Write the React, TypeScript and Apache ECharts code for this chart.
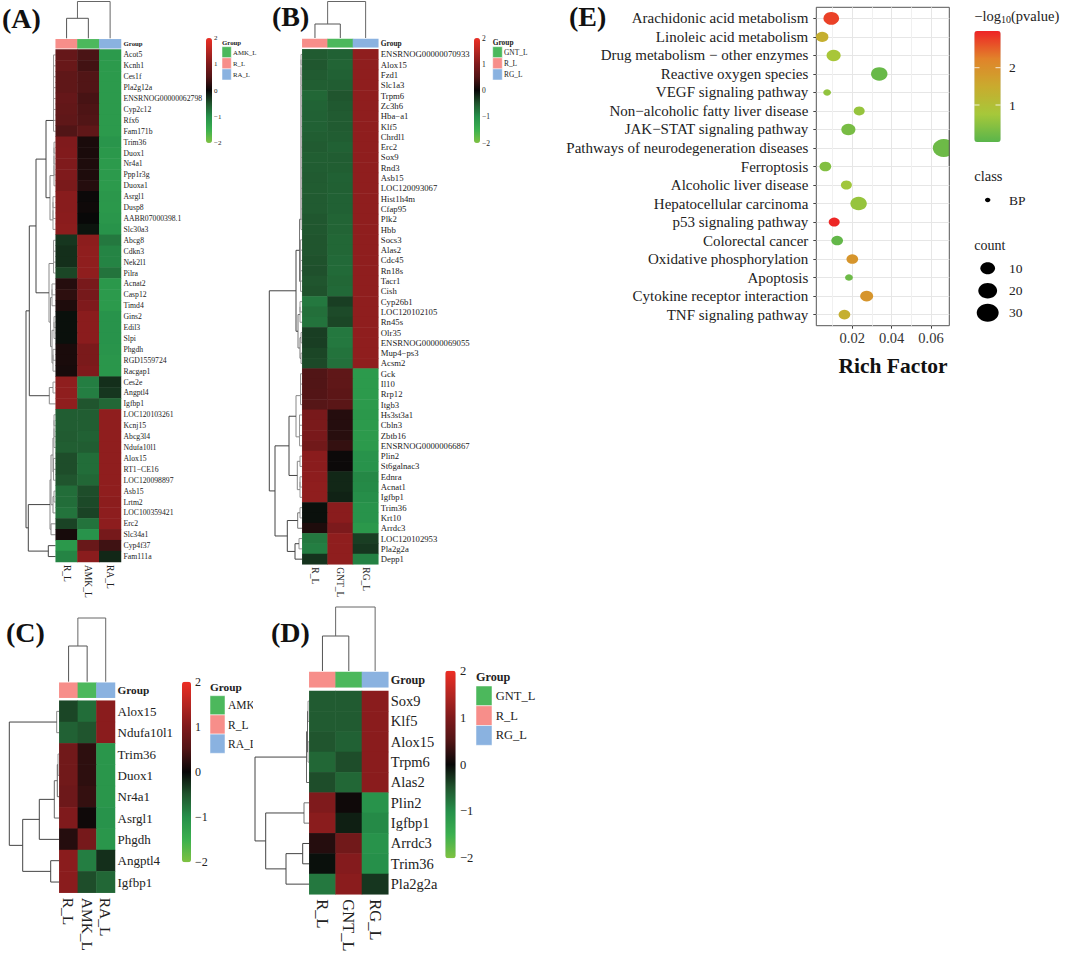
import React, { useEffect, useRef } from "react";
import * as echarts from "echarts";

const FONT = "Liberation Serif";

// ---------- Panel A ----------
const rowsA = ["Acot5","Kcnh1","Ces1f","Pla2g12a","ENSRNOG00000062798","Cyp2c12","Rfx6","Fam171b","Trim36","Duox1","Nr4a1","Ppp1r3g","Duoxa1","Asrgl1","Dusp8","AABR07000398.1","Slc30a3","Abcg8","Cdkn3","Nek2l1","Pilra","Acnat2","Casp12","Timd4","Gins2","Edil3","Slpi","Phgdh","RGD1559724","Racgap1","Ces2e","Angptl4","Igfbp1","LOC120103261","Kcnj15","Abcg3l4","Ndufa10l1","Alox15","RT1−CE16","LOC120098897","Asb15","Lrtm2","LOC100359421","Erc2","Slc34a1","Cyp4f37","Fam111a"];
const colsA = ["R_L","AMK_L","RA_L"];
const aR = [.72,.75,.65,.65,.72,.68,.65,.5,1.0,1.02,1.0,1.0,.95,1.08,1.08,1.1,1.12,-.3,-.25,-.25,-.4,.2,.25,.15,-.05,-.05,-.05,.12,.12,.1,1.15,1.15,1.15,-.57,-.57,-.55,-.58,-.45,-.45,-.5,-.7,-.7,-.75,-.38,.1,-1.13,-.9];
const aAMK = [.45,.4,.5,.5,.43,.47,.5,.65,.12,.12,.15,.15,.2,.03,.05,0,-.08,1.12,1.15,1.15,1.15,.92,.9,1.0,1.1,1.1,1.1,.95,.95,1.0,-.85,-.85,-.5,-.57,-.58,-.6,-.57,-.7,-.7,-.65,-.45,-.42,-.38,-.75,-1.05,.75,1.1];
const aRA = [-1.15,-1.15,-1.15,-1.15,-1.15,-1.15,-1.15,-1.15,-1.08,-1.12,-1.15,-1.15,-1.15,-1.11,-1.13,-1.1,-1.04,-.8,-.9,-.9,-.75,-1.12,-1.15,-1.15,-1.05,-1.05,-1.05,-1.07,-1.1,-1.1,-.25,-.3,-.65,1.15,1.15,1.15,1.15,1.15,1.15,1.15,1.15,1.12,1.13,1.13,.9,.38,-.2];

// ---------- Panel B ----------
const rowsB = ["ENSRNOG00000070933","Alox15","Fzd1","Slc1a3","Trpm6","Zc3h6","Hba−a1","Klf5","Chrdl1","Erc2","Sox9","Rnd3","Asb15","LOC120093067","Hist1h4m","Cfap95","Plk2","Hbb","Socs3","Alas2","Cdc45","Rn18s","Tacr1","Cish","Cyp26b1","LOC120102105","Rn45s","Olr35","ENSRNOG00000069055","Mup4−ps3","Acsm2","Gck","Il10","Rrp12","Itgb3","Hs3st3a1","Cbln3","Zbtb16","ENSRNOG00000066867","Plin2","St6galnac3","Ednra","Acnat1","Igfbp1","Trim36","Krt10","Arrdc3","LOC120102953","Pla2g2a","Depp1"];
const colsB = ["R_L","GNT_L","RG_L"];
const bR = [-.55,-.52,-.55,-.58,-.65,-.62,-.6,-.6,-.58,-.55,-.58,-.57,-.55,-.56,-.55,-.55,-.52,-.52,-.5,-.5,-.48,-.47,-.5,-.48,-.8,-.72,-.75,-.35,-.35,-.4,-.42,.5,.5,.52,.55,.92,.95,.93,.85,1.1,1.1,1.13,1.15,1.15,-.05,-.05,.15,-.8,-.85,-.28];
const bGNT = [-.6,-.63,-.6,-.57,-.5,-.53,-.55,-.55,-.57,-.6,-.57,-.58,-.6,-.59,-.6,-.6,-.63,-.63,-.65,-.65,-.67,-.68,-.65,-.67,-.35,-.43,-.4,-.8,-.8,-.75,-.73,.65,.65,.62,.6,.2,.2,.22,.3,.03,.03,-.2,-.2,-.17,1.1,1.1,.97,1.15,1.15,1.15];
const bRG = [1.15,1.15,1.15,1.15,1.15,1.15,1.15,1.15,1.15,1.15,1.15,1.15,1.15,1.15,1.15,1.15,1.15,1.15,1.15,1.15,1.15,1.15,1.15,1.15,1.15,1.15,1.15,1.15,1.15,1.15,1.15,-1.15,-1.15,-1.15,-1.15,-1.12,-1.15,-1.15,-1.15,-1.05,-1.05,-.93,-.95,-.98,-1.05,-1.05,-1.12,-.35,-.3,-.87];

// ---------- Panel C ----------
const rowsC = ["Alox15","Ndufa10l1","Trim36","Duox1","Nr4a1","Asrgl1","Phgdh","Angptl4","Igfbp1"];
const colsC = ["R_L","AMK_L","RA_L"];
const cR = [-.4,-.6,.85,.85,.8,1.0,.2,1.1,1.1];
const cAMK = [-.7,-.5,.25,.25,.3,.05,.9,-.85,-.45];
const cRA = [1.1,1.1,-1.1,-1.1,-1.1,-1.05,-1.1,-.25,-.65];

// ---------- Panel D ----------
const rowsD = ["Sox9","Klf5","Alox15","Trpm6","Alas2","Plin2","Igfbp1","Arrdc3","Trim36","Pla2g2a"];
const colsD = ["R_L","GNT_L","RG_L"];
const dR = [-.55,-.55,-.5,-.65,-.45,1.0,1.1,.2,-.05,-.8];
const dGNT = [-.55,-.55,-.6,-.45,-.65,.05,-.15,.85,1.05,1.1];
const dRG = [1.1,1.1,1.1,1.1,1.1,-1.05,-.95,-1.05,-1.0,-.3];

// ---------- Panel E ----------
const pathways = ["Arachidonic acid metabolism","Linoleic acid metabolism","Drug metabolism − other enzymes","Reactive oxygen species","VEGF signaling pathway","Non−alcoholic fatty liver disease","JAK−STAT signaling pathway","Pathways of neurodegeneration diseases","Ferroptosis","Alcoholic liver disease","Hepatocellular carcinoma","p53 signaling pathway","Colorectal cancer","Oxidative phosphorylation","Apoptosis","Cytokine receptor interaction","TNF signaling pathway"];
const richFactor = [.0093,.0047,.0105,.0337,.0072,.0235,.0180,.0665,.0063,.0170,.0232,.0108,.0123,.0200,.0183,.0273,.0160];
const counts = [12,6,9,14,1,4,9,30,5,4,14,4,5,5,1,7,5];
const logP = [2.75,1.4,.8,.15,.55,.6,.3,.2,.4,.7,.6,2.95,.1,1.9,.2,1.9,1.4];
const countLegend = [10,20,30];

const HEAT_COLORS = ["#7fc241","#3bb04f","#26904a","#20552e","#080808","#511516","#7f1a1c","#b52622","#ee2e24"];
const HEAT_TICKS = ["2","1","0","−1","−2"];
const RICH_COLORS = ["#5ab54b","#a6c83a","#c9ab2e","#e1832a","#ee2326"];
const GROUP_COLORS: Record<string,string> = { "R_L":"#f78e8a", "AMK_L":"#4cb85c", "GNT_L":"#4cb85c", "RA_L":"#8ab2e0", "RG_L":"#8ab2e0" };
const ANNOT_COLORS = ["#f78e8a","#4cb85c","#8ab2e0"];

type Tree = number | { x: number; a: Tree; b: Tree; c?: string };
const N = (x: number, a: Tree, b: Tree, c?: string): Tree => ({ x, a, b, c });
// A tight run of rows merged right next to the heatmap
const run = (x: number, from: number, to: number): Tree => {
  let t: Tree = from;
  for (let i = from + 1; i <= to; i++) t = N(x, t, i, "#999");
  return t;
};

const treeA: Tree = N(26,
  N(29.3,
    N(36,
      N(46, run(53.5,0,7), N(50, run(54,8,12), run(53,13,16), "#888")),
      N(49, run(53.5,17,20), N(50.5, run(52,21,23), N(52, run(54,24,26), run(53,27,29), "#888"), "#888"), "#888")),
    N(49.3, run(53,30,31), 32, "#888")),
  N(28.3,
    N(50, N(51, N(53, run(54,33,36), run(53.5,37,39), "#888"), N(53, run(54,40,41), 42, "#888"), "#888"), N(51, 43, 44, "#888"), "#888"),
    N(48.3, 45, 46)));
const treeB: Tree = N(269.3,
  N(296,
    N(299.5, run(301,0,17), run(300.5,18,23), "#777"),
    N(298, run(300,24,26), N(300, run(301,27,28), run(301,29,30), "#777"), "#777")),
  N(275,
    N(289,
      N(296, run(300.5,31,34), run(299.5,35,38), "#888"),
      N(297.3, run(300,39,40), run(300,41,43), "#888")),
    N(287.3,
      N(297.7, run(300,44,45), 46, "#777"),
      N(295, run(299,47,48), 49, "#444"))));
const treeC: Tree = N(9.3,
  N(56.7, 0, 1, "#888"),
  N(22.7,
    N(39.3, N(54.3, N(57.3, run(58,2,3), 4, "#666"), 5, "#666"), 6),
    N(50.7, 7, 8)));
const treeD: Tree = N(255,
  N(306.5, N(307.5, run(308,0,1), run(308,2,3), "#666"), 4, "#666"),
  N(265.7,
    N(304, 5, 6, "#777"),
    N(286, N(302.7, 7, 8), 9)));

const treeLines = (tree: Tree, rowY: (r: number) => number, right: number, out: any[]) => {
  const walk = (t: Tree): [number, number] => {
    if (typeof t === "number") return [right, rowY(t)];
    const p = walk(t.a), q = walk(t.b);
    out.push({
      type: "polyline", silent: true,
      shape: { points: [p, [t.x, p[1]], [t.x, q[1]], q] },
      style: { stroke: t.c || "#444", lineWidth: 1, fill: "none" },
    });
    return [t.x, (p[1] + q[1]) / 2];
  };
  walk(tree);
};

const heatData = (rows: string[], columns: number[][]) =>
  rows.flatMap((_, r) => columns.map((col, c) => [c, r, col[r]]));

type Panel = {
  rows: string[]; cols: string[]; values: number[][]; tree: Tree;
  x0: number; x1: number; y0: number; y1: number; ay0: number; ay1: number;
  rowFont: number; colFont: number; colGap: number; groupFont: number;
  mergeY: number; rootY: number;
  bar: { x: number; w: number; y0: number; y1: number; tx: number; font: number };
  legend: { x: number; w: number; y0: number; y1: number; tx: number; ty: number; font: number; titleFont: number };
  legendNames: string[];
};

const panels: Panel[] = [
  { rows: rowsA, cols: colsA, values: [aR, aAMK, aRA], tree: treeA,
    x0: 55.7, x1: 121, y0: 49.5, y1: 562, ay0: 39.3, ay1: 48.3, rowFont: 7.7, colFont: 9.5, colGap: 3, groupFont: 6.8,
    mergeY: 18.3, rootY: 1.5,
    bar: { x: 206, w: 6, y0: 38, y1: 143, tx: 214, font: 7 },
    legend: { x: 222, w: 9.3, y0: 46.7, y1: 80, tx: 233, ty: 42, font: 6.8, titleFont: 6.8 },
    legendNames: ["AMK_L","R_L","RA_L"] },
  { rows: rowsB, cols: colsB, values: [bR, bGNT, bRG], tree: treeB,
    x0: 302.3, x1: 378.3, y0: 49.3, y1: 564.3, ay0: 39, ay1: 47.3, rowFont: 8.7, colFont: 9.5, colGap: 3, groupFont: 7.4,
    mergeY: 24, rootY: 1.5,
    bar: { x: 474, w: 6, y0: 38, y1: 143, tx: 482, font: 7.5 },
    legend: { x: 492.7, w: 9.6, y0: 46.7, y1: 80, tx: 504, ty: 42, font: 7.4, titleFont: 7.4 },
    legendNames: ["GNT_L","R_L","RG_L"] },
  { rows: rowsC, cols: colsC, values: [cR, cAMK, cRA], tree: treeC,
    x0: 59.3, x1: 115, y0: 700.7, y1: 892.7, ay0: 682.7, ay1: 697.7, rowFont: 13, colFont: 15.5, colGap: 5, groupFont: 11.3,
    mergeY: 646, rootY: 618,
    bar: { x: 182, w: 9, y0: 681.7, y1: 862.3, tx: 195, font: 12 },
    legend: { x: 210, w: 15, y0: 695.7, y1: 753.3, tx: 228, ty: 687, font: 11.5, titleFont: 11.3 },
    legendNames: ["AMK_L","R_L","RA_L"] },
  { rows: rowsD, cols: colsD, values: [dR, dGNT, dRG], tree: treeD,
    x0: 309.3, x1: 388.3, y0: 691, y1: 894.3, ay0: 672, ay1: 687.3, rowFont: 14.5, colFont: 16.5, colGap: 5, groupFont: 12.2,
    mergeY: 636, rootY: 607,
    bar: { x: 445.3, w: 10.4, y0: 670.7, y1: 858.3, tx: 460, font: 12.5 },
    legend: { x: 476, w: 16, y0: 686, y1: 745.3, tx: 495.7, ty: 676.7, font: 12.5, titleFont: 12.2 },
    legendNames: ["GNT_L","R_L","RG_L"] },
];

const titles = [
  { t: "(A)", x: 2, y: 18 }, { t: "(B)", x: 272, y: 16 },
  { t: "(C)", x: 6, y: 632 }, { t: "(D)", x: 271, y: 632 }, { t: "(E)", x: 569, y: 16 },
];

const dotW = (c: number) => 3.15 * Math.sqrt(c) + 4.7;
const ASPECT = 1.22;

const txt = (text: string, x: number, y: number, fontSize: number, extra: any = {}) => ({
  type: "text", silent: true, x, y,
  style: { text, fontSize, fontFamily: FONT, fill: "#222", verticalAlign: "middle", ...extra },
});

function buildOption() {
  const grid: any[] = [], xAxis: any[] = [], yAxis: any[] = [], series: any[] = [], visualMap: any[] = [], graphic: any[] = [];

  panels.forEach((p, i) => {
    const hi = i * 2, ai = i * 2 + 1;
    grid.push({ left: p.x0, top: p.y0, width: p.x1 - p.x0, height: p.y1 - p.y0 });
    grid.push({ left: p.x0, top: p.ay0, width: p.x1 - p.x0, height: p.ay1 - p.ay0 });
    xAxis.push({
      type: "category", gridIndex: hi, data: p.cols, position: "bottom",
      axisLine: { show: false }, axisTick: { show: false }, splitLine: { show: false },
      axisLabel: { rotate: -90, margin: p.colGap, fontSize: p.colFont, fontFamily: FONT, color: "#222", interval: 0 },
    });
    xAxis.push({ type: "category", gridIndex: ai, data: p.cols, show: false });
    yAxis.push({
      type: "category", gridIndex: hi, data: p.rows, inverse: true, position: "right",
      axisLine: { show: false }, axisTick: { show: false }, splitLine: { show: false },
      axisLabel: { margin: 2.5, fontSize: p.rowFont, fontFamily: FONT, color: "#222", interval: 0 },
    });
    yAxis.push({
      type: "category", gridIndex: ai, data: ["Group"], position: "right",
      axisLine: { show: false }, axisTick: { show: false }, splitLine: { show: false },
      axisLabel: { margin: 2.5, fontSize: p.groupFont, fontWeight: "bold", fontFamily: FONT, color: "#222" },
    });
    series.push({
      type: "heatmap", xAxisIndex: hi, yAxisIndex: hi, progressive: 0, silent: true,
      data: heatData(p.rows, p.values),
    });
    series.push({
      type: "heatmap", xAxisIndex: ai, yAxisIndex: ai, silent: true,
      data: p.cols.map((_, k) => [k, 0, k]),
    });
    visualMap.push({
      type: "continuous", seriesIndex: hi, min: -2, max: 2, calculable: false, hoverLink: false,
      left: p.bar.x, top: p.bar.y0, itemWidth: p.bar.w, itemHeight: p.bar.y1 - p.bar.y0, padding: 0,
      inRange: { color: HEAT_COLORS }, textStyle: { fontSize: 1, color: "rgba(0,0,0,0)" },
    });
    HEAT_TICKS.forEach((t, k) => {
      const y = p.bar.y0 + ((p.bar.y1 - p.bar.y0) * k) / 4;
      graphic.push(txt(t, p.bar.tx, y, p.bar.font));
    });
    // group legend
    graphic.push(txt("Group", p.legend.x, p.legend.ty, p.legend.titleFont, { fontWeight: "bold" }));
    const lh = (p.legend.y1 - p.legend.y0) / 3;
    p.legendNames.forEach((n, k) => {
      graphic.push({ type: "rect", silent: true, shape: { x: p.legend.x, y: p.legend.y0 + k * lh, width: p.legend.w, height: lh }, style: { fill: GROUP_COLORS[n], stroke: "#fff", lineWidth: 0.5 } });
      graphic.push(txt(n, p.legend.tx, p.legend.y0 + (k + 0.5) * lh, p.legend.font));
    });
    // dendrograms
    const rh = (p.y1 - p.y0) / p.rows.length;
    treeLines(p.tree, (r) => p.y0 + rh * (r + 0.5), p.x0, graphic);
    const cw = (p.x1 - p.x0) / 3;
    const c0 = p.x0 + cw / 2, c1 = p.x0 + cw * 1.5, c2 = p.x0 + cw * 2.5, m = (c0 + c1) / 2;
    const top = p.ay0 - 1;
    graphic.push({ type: "polyline", silent: true, shape: { points: [[c0, top], [c0, p.mergeY], [c1, p.mergeY], [c1, top]] }, style: { stroke: "#555", lineWidth: 1, fill: "none" } });
    graphic.push({ type: "polyline", silent: true, shape: { points: [[m, p.mergeY], [m, p.rootY], [c2, p.rootY], [c2, top]] }, style: { stroke: "#666", lineWidth: 1, fill: "none" } });
  });

  // one colour scale for all four Group annotation strips
  visualMap.push({
    type: "continuous", show: false, seriesIndex: panels.map((_, i) => i * 2 + 1), min: 0, max: 2,
    inRange: { color: ANNOT_COLORS },
  });

  // panel C's legend is cut off at its right edge in the source figure
  graphic.push({ type: "rect", silent: true, z: 50, shape: { x: 253, y: 698, width: 24, height: 54 }, style: { fill: "#fff" } });

  titles.forEach((t) => graphic.push(txt(t.t, t.x, t.y, 28, { fontWeight: "bold", fill: "#111" })));

  // ---------- Panel E ----------
  const eIdx = grid.length;
  const indices = pathways.map((_, i) => i);
  grid.push({ left: 816.3, top: 7.3, width: 133, height: 318.4, show: true, borderColor: "#555", borderWidth: 1, backgroundColor: "#fff" });
  xAxis.push({
    type: "value", gridIndex: eIdx, min: 0.0017, max: 0.0693, position: "bottom",
    axisLine: { show: false, onZero: false },
    axisTick: { customValues: [0.02, 0.04, 0.06], length: 3, lineStyle: { color: "#444" } },
    axisLabel: { customValues: [0.02, 0.04, 0.06], formatter: (v: number) => v.toFixed(2), fontSize: 14.5, fontFamily: FONT, color: "#333", margin: 5 },
    splitLine: { show: true, lineStyle: { color: "#e6e6e6", width: 1 } },
  });
  yAxis.push({
    type: "value", gridIndex: eIdx, min: -0.6, max: 16.6, inverse: true,
    axisLine: { show: false, onZero: false },
    axisTick: { customValues: indices, length: 3, lineStyle: { color: "#444" } },
    axisLabel: { customValues: indices, formatter: (v: number) => pathways[v] ?? "", fontSize: 15, fontFamily: FONT, color: "#222", margin: 8 },
    splitLine: { show: true, lineStyle: { color: "#e6e6e6", width: 1 } },
  });
  const eSeries = series.length;
  series.push({
    type: "scatter", xAxisIndex: eIdx, yAxisIndex: eIdx, silent: true, clip: true,
    data: pathways.map((_, i) => [richFactor[i], i, counts[i], logP[i]]),
    symbol: "circle",
    symbolSize: (v: number[]) => [dotW(v[2]), dotW(v[2]) / ASPECT],
    itemStyle: { opacity: 1 },
    markLine: {
      silent: true, symbol: "none", label: { show: false }, z: 0,
      lineStyle: { color: "#f0f0f0", width: 1, type: "solid" },
      data: [{ xAxis: 0.01 }, { xAxis: 0.03 }, { xAxis: 0.05 }],
    },
  });
  visualMap.push({
    type: "continuous", seriesIndex: eSeries, dimension: 3, min: 0.01, max: 2.98, calculable: false, hoverLink: false,
    left: 974.3, top: 31, itemWidth: 26.4, itemHeight: 111, padding: 0,
    inRange: { color: RICH_COLORS }, textStyle: { fontSize: 1, color: "rgba(0,0,0,0)" },
  });
  // the largest dot is cut by the panel's right border
  graphic.push({ type: "rect", silent: true, z: 50, shape: { x: 949.8, y: 130, width: 12, height: 36 }, style: { fill: "#fff" } });
  graphic.push({ type: "line", silent: true, z: 51, shape: { x1: 949.3, y1: 130, x2: 949.3, y2: 166 }, style: { stroke: "#555", lineWidth: 1 } });

  graphic.push({
    type: "text", silent: true, x: 974.3, y: 16,
    style: {
      text: "{a|−log}{b|10}{a|(pvalue)}", verticalAlign: "middle", fill: "#222",
      rich: {
        a: { fontSize: 14.5, fontFamily: FONT, fill: "#222" },
        b: { fontSize: 10, fontFamily: FONT, fill: "#222", verticalAlign: "bottom", padding: [6, 0, 0, 0] },
      },
    },
  });
  [[2, 67.7], [1, 105]].forEach(([v, y]) => {
    graphic.push(txt(String(v), 1009, y, 13.5));
    graphic.push({ type: "line", silent: true, z: 20, shape: { x1: 974.3, y1: y, x2: 979.5, y2: y }, style: { stroke: "#fff", lineWidth: 0.8 } });
    graphic.push({ type: "line", silent: true, z: 20, shape: { x1: 995.5, y1: y, x2: 1000.7, y2: y }, style: { stroke: "#fff", lineWidth: 0.8 } });
  });
  graphic.push(txt("class", 974.3, 176, 14.5));
  graphic.push({ type: "ellipse", silent: true, shape: { cx: 987.7, cy: 200, rx: 2.7, ry: 2.2 }, style: { fill: "#000" } });
  graphic.push(txt("BP", 1009, 200, 13.5));
  graphic.push(txt("count", 974.3, 245, 14));
  [268.3, 290.7, 312.7].forEach((y, k) => {
    const w = dotW(countLegend[k]);
    graphic.push({ type: "ellipse", silent: true, shape: { cx: 987.7, cy: y, rx: w / 2, ry: w / ASPECT / 2 }, style: { fill: "#000" } });
    graphic.push(txt(String(countLegend[k]), 1009, y, 13.5));
  });
  graphic.push(txt("Rich Factor", 893, 366, 21.5, { fontWeight: "bold", align: "center", fill: "#111" }));

  return {
    animation: false,
    backgroundColor: "#fff",
    textStyle: { fontFamily: FONT },
    grid, xAxis, yAxis, series, visualMap,
    graphic: { elements: graphic },
  };
}

export default function App() {
  const ref = useRef<HTMLDivElement>(null);
  useEffect(() => {
    const chart = echarts.init(ref.current!, undefined, { renderer: "svg" });
    chart.setOption(buildOption() as any);
    return () => chart.dispose();
  }, []);
  return <div ref={ref} style={{ position: "fixed", left: 0, top: 0, width: 1065, height: 956 }} />;
}
